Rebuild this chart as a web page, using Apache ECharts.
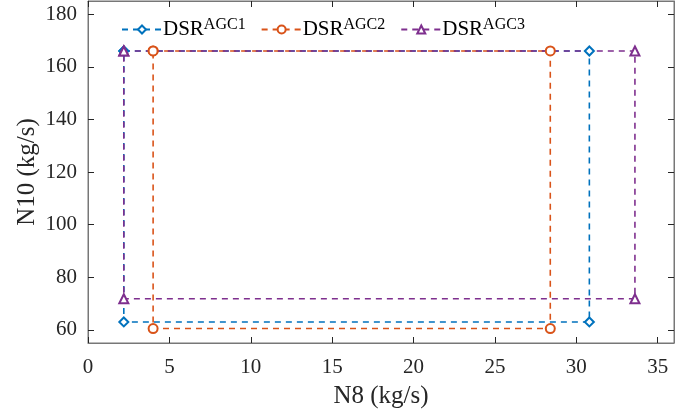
<!DOCTYPE html>
<html>
<head>
<meta charset="utf-8">
<script src="https://cdn.jsdelivr.net/npm/echarts@6/dist/echarts.min.js"></script>
<style>
  html, body { margin: 0; padding: 0; background: #fff; }
  #chart { width: 699px; height: 412px; }
</style>
</head>
<body>
<div id="chart"></div>
<script>
// rectangle corners of each operating region (N8, N10)
const agc1 = [[2.2, 166], [30.8, 166], [30.8, 63], [2.2, 63], [2.2, 166]]
const agc2 = [[4.0, 166], [28.4, 166], [28.4, 60.5], [4.0, 60.5], [4.0, 166]]
const agc3 = [[2.2, 166], [33.6, 166], [33.6, 71.8], [2.2, 71.8], [2.2, 166]]
const seriesNames = ['DSR AGC1', 'DSR AGC2', 'DSR AGC3']
const xTicks = [0, 5, 10, 15, 20, 25, 30, 35]
const yTicks = [60, 80, 100, 120, 140, 160, 180]

const font = 'Liberation Serif'
const axisColor = '#777'
const tickColor = '#262626'

function dsr (name) {
  return '{a|DSR}{b|' + name.split(' ')[1] + '}'
}

function line (name, data, color, symbol) {
  return {
    name: name,
    type: 'line',
    data: data,
    symbol: symbol,
    symbolSize: 9,
    showAllSymbol: true,
    lineStyle: { color: color, width: 1.6, type: [6, 5] },
    itemStyle: { color: color, borderWidth: 1.8 },
    z: 3
  }
}

// ticks drawn towards the inside of the box
function ticks (values) {
  return { show: true, inside: false, length: -6, customValues: values, lineStyle: { color: tickColor } }
}

// box side without labels, only the ticks
function mirror (values) {
  return {
    axisLine: { show: true, onZero: false, lineStyle: { color: axisColor } },
    axisTick: ticks(values),
    axisLabel: { show: false, customValues: values },
    splitLine: { show: false }
  }
}

let chart = echarts.init(document.getElementById('chart'))
chart.setOption({
  animation: false,
  grid: {
    left: 88, right: 25, top: 1, bottom: 69,
    outerBoundsMode: 'none',
    show: true, borderColor: axisColor, borderWidth: 1
  },
  legend: {
    left: 116, top: 12,
    itemWidth: 40, itemHeight: 10, itemGap: 15,
    data: seriesNames,
    formatter: dsr,
    textStyle: {
      padding: [0, 0, 0, -4],
      rich: {
        a: { fontFamily: font, fontSize: 21, color: '#000' },
        b: { fontFamily: font, fontSize: 16, color: '#000', verticalAlign: 'top', padding: [0, 0, 9, 0] }
      }
    }
  },
  xAxis: [{
    type: 'value', min: 0, max: 36,
    name: 'N8 (kg/s)', nameLocation: 'middle', nameGap: 41, nameMoveOverlap: false,
    nameTextStyle: { fontFamily: font, fontSize: 25, color: '#262626' },
    axisLine: { show: true, onZero: false, lineStyle: { color: axisColor } },
    axisTick: ticks(xTicks),
    axisLabel: { customValues: xTicks, fontFamily: font, fontSize: 21, color: '#262626', margin: 14 },
    splitLine: { show: false }
  }, Object.assign({ type: 'value', min: 0, max: 36, position: 'top' }, mirror(xTicks))],
  yAxis: [{
    type: 'value', min: 55, max: 185,
    name: 'N10 (kg/s)', nameLocation: 'middle', nameGap: 48, nameMoveOverlap: false,
    nameTextStyle: { fontFamily: font, fontSize: 25, color: '#262626' },
    axisLine: { show: true, onZero: false, lineStyle: { color: axisColor } },
    axisTick: ticks(yTicks),
    axisLabel: { customValues: yTicks, fontFamily: font, fontSize: 21, color: '#262626', margin: 11 },
    splitLine: { show: false }
  }, Object.assign({ type: 'value', min: 55, max: 185, position: 'right' }, mirror(yTicks))],
  series: [
    line(seriesNames[0], agc1, '#0072BD', 'emptyDiamond'),
    line(seriesNames[1], agc2, '#D95319', 'emptyCircle'),
    line(seriesNames[2], agc3, '#7E2F8E', 'emptyTriangle'),
    // empty series so the mirrored top/right axes get laid out
    { type: 'line', xAxisIndex: 1, yAxisIndex: 1, data: [], silent: true }
  ]
})
</script>
</body>
</html>
